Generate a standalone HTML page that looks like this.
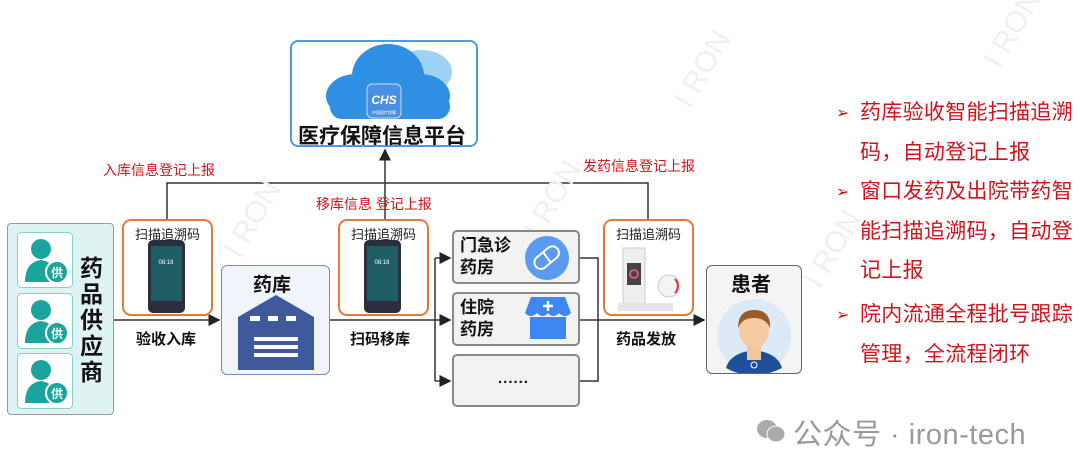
<!DOCTYPE html>
<html><head><meta charset="utf-8">
<style>
*{margin:0;padding:0;box-sizing:border-box}
body{width:1080px;height:473px;background:#fff;position:relative;overflow:hidden;font-family:"Liberation Sans","Noto Sans CJK SC",sans-serif}
.a{position:absolute}
.red{color:#d0121b;font-size:14px;white-space:nowrap}
.scan{position:absolute;border:2px solid #e07b39;border-radius:9px;background:#fff;width:91px;height:97px;top:219px}
.scan .t{font-size:13px;color:#222;text-align:center;margin-top:3px}
.bold{font-weight:bold;color:#111;white-space:nowrap}
.ph{position:absolute;border:2px solid #888;border-radius:5px;background:#f2f2f2}
.bul{position:absolute;left:860px;color:#d0121b;font-size:21px;letter-spacing:0.3px;line-height:39.5px;width:235px;white-space:nowrap}
.arr{position:absolute;left:836px;color:#d0121b;font-size:16px}
</style></head><body>

<svg class="a" style="left:0;top:0" width="1080" height="473">
<defs><marker id="m" markerWidth="8" markerHeight="8" refX="7" refY="4" orient="auto"><path d="M0,0 L8,4 L0,8z" fill="#222"/></marker></defs>
<g stroke="#333" stroke-width="1.5" fill="none">
<polyline points="167,219 167,183 648,183 648,219"/>
<line x1="385" y1="219" x2="385" y2="183"/>
<line x1="385" y1="183" x2="385" y2="150" marker-end="url(#m)"/>
<line x1="114" y1="320" x2="219" y2="320" marker-end="url(#m)"/>
<line x1="330" y1="320" x2="450" y2="320" marker-end="url(#m)"/>
<polyline points="435,258 435,381"/>
<line x1="435" y1="258" x2="450" y2="258" marker-end="url(#m)"/>
<line x1="435" y1="381" x2="450" y2="381" marker-end="url(#m)"/>
<polyline points="580,258 598,258 598,381 580,381"/>
<line x1="580" y1="320" x2="704" y2="320" marker-end="url(#m)"/>
</g>
<g fill="#f0f0f0" font-size="30" font-family="Liberation Sans">
<text x="540" y="240" transform="rotate(-60 540 240)">I RON</text>
<text x="690" y="110" transform="rotate(-60 690 110)">I RON</text>
<text x="1000" y="70" transform="rotate(-60 1000 70)">I RON</text>
<text x="820" y="290" transform="rotate(-60 820 290)">I RON</text>
<text x="240" y="260" transform="rotate(-60 240 260)">I RON</text>
</g>
</svg>

<div class="a" style="left:290px;top:40px;width:188px;height:107px;border:2px solid #4a9be8;border-radius:8px;background:#fff"></div>
<svg class="a" style="left:322px;top:44px" width="136" height="80">
<ellipse cx="100" cy="28" rx="30" ry="22" fill="#9fd3f5"/>
<ellipse cx="66" cy="32" rx="36" ry="32" fill="#2f8fe3"/>
<ellipse cx="34" cy="52" rx="30" ry="22" fill="#2f8fe3"/>
<ellipse cx="98" cy="52" rx="30" ry="22" fill="#2f8fe3"/>
<rect x="8" y="50" width="120" height="25" rx="12" fill="#2f8fe3"/>
<rect x="45" y="40" width="34" height="34" rx="5" fill="#4a8fe0" stroke="#bfe0ff"/>
<text x="62" y="60" font-size="12" font-weight="bold" font-style="italic" fill="#fff" text-anchor="middle">CHS</text>
<text x="62" y="70" font-size="4" fill="#fff" text-anchor="middle">中国医疗保障</text>
</svg>
<div class="a bold" style="left:298px;top:120px;font-size:21px">医疗保障信息平台</div>

<div class="a red" style="left:103px;top:160px">入库信息登记上报</div>
<div class="a red" style="left:316px;top:194px">移库信息 登记上报</div>
<div class="a red" style="left:583px;top:156px">发药信息登记上报</div>

<div class="a" style="left:7px;top:223px;width:107px;height:192px;background:#e0f3f3;border:1.5px solid #999;border-radius:4px"></div>
<svg class="a" style="left:17px;top:232px" width="56" height="180">
<g id="s"><rect x="0.5" y="0.5" width="55" height="55" rx="4" fill="#fff" stroke="#7fd1cc"/>
<circle cx="24" cy="17" r="10" fill="#1aa59c"/><path d="M8,50 Q8,30 24,28 Q40,30 40,50z" fill="#1aa59c"/>
<circle cx="40" cy="40" r="11" fill="#1aa59c" stroke="#fff" stroke-width="2"/><text x="40" y="45" font-size="12" fill="#fff" text-anchor="middle" font-weight="bold">供</text></g>
<use href="#s" y="61"/><use href="#s" y="121"/>
</svg>
<div class="a bold" style="left:80px;top:255px;font-size:23px;width:25px;line-height:26px;white-space:normal">药品供应商</div>

<div class="scan" style="left:122px"><div class="t">扫描追溯码</div></div>
<div class="scan" style="left:338px"><div class="t">扫描追溯码</div></div>
<div class="scan" style="left:603px"><div class="t">扫描追溯码</div></div>
<svg class="a" style="left:148px;top:240px" width="40" height="74"><rect x="0" y="0" width="37" height="73" rx="5" fill="#2a2f3e"/><rect x="3" y="6" width="31" height="55" fill="#1e5d64"/><text x="18" y="24" font-size="6" fill="#fff" text-anchor="middle">08:18</text></svg>
<svg class="a" style="left:364px;top:240px" width="40" height="74"><rect x="0" y="0" width="37" height="73" rx="5" fill="#2a2f3e"/><rect x="3" y="6" width="31" height="55" fill="#1e5d64"/><text x="18" y="24" font-size="6" fill="#fff" text-anchor="middle">08:18</text></svg>
<svg class="a" style="left:615px;top:243px" width="75" height="72"><rect x="8" y="5" width="22" height="60" fill="#eee" stroke="#ccc"/><rect x="12" y="20" width="14" height="22" fill="#444"/><circle cx="19" cy="31" r="4" fill="none" stroke="#d58" stroke-width="2"/><rect x="3" y="60" width="55" height="8" fill="#e6e6e6"/><circle cx="54" cy="43" r="11" fill="#f4f4f4" stroke="#ccc"/><path d="M60,36 A10,10 0 0 1 60,50" stroke="#c33" stroke-width="2" fill="none"/></svg>

<div class="a bold" style="left:136px;top:328px;font-size:15px">验收入库</div>
<div class="a bold" style="left:350px;top:328px;font-size:15px">扫码移库</div>
<div class="a bold" style="left:616px;top:328px;font-size:15px">药品发放</div>

<div class="a" style="left:221px;top:265px;width:109px;height:110px;background:#f1f4fb;border:1.5px solid #6e8fcb;border-radius:6px"></div>
<div class="a bold" style="left:253px;top:270px;font-size:19px">药库</div>
<svg class="a" style="left:238px;top:295px" width="76" height="75"><path d="M0,22 L38,0 L76,22 L76,75 L64,75 L64,40 L12,40 L12,75 L0,75z" fill="#3e5a9b"/><rect x="12" y="40" width="52" height="35" fill="#3e5a9b"/><g fill="#fff"><rect x="12" y="21" width="10" height="5"/><rect x="30" y="21" width="10" height="5"/><rect x="48" y="21" width="10" height="5"/><rect x="16" y="42" width="44" height="4"/><rect x="16" y="50" width="44" height="4"/><rect x="16" y="58" width="44" height="4"/></g></svg>

<div class="ph" style="left:452px;top:230px;width:128px;height:54px"></div>
<div class="a bold" style="left:460px;top:235px;font-size:17px;line-height:22px">门急诊<br>药房</div>
<svg class="a" style="left:524px;top:235px" width="46" height="46"><circle cx="23" cy="23" r="22" fill="#5b9bef"/><rect x="9" y="16" width="28" height="13" rx="6.5" transform="rotate(-40 23 23)" fill="none" stroke="#fff" stroke-width="2"/><line x1="19" y1="17" x2="27" y2="28" stroke="#fff" stroke-width="2"/></svg>
<div class="ph" style="left:452px;top:292px;width:128px;height:54px"></div>
<div class="a bold" style="left:460px;top:297px;font-size:17px;line-height:22px">住院<br>药房</div>
<svg class="a" style="left:525px;top:297px" width="46" height="44"><path d="M6,0 H40 L46,16 Q40,22 34,16 Q28,22 23,16 Q18,22 12,16 Q6,22 0,16z" fill="#3f86f0"/><rect x="5" y="20" width="36" height="22" fill="#3f86f0"/><path d="M23,4 v10 M18,9 h10" stroke="#fff" stroke-width="2.5"/></svg>
<div class="ph" style="left:452px;top:354px;width:128px;height:53px"></div>
<div class="a bold" style="left:498px;top:370px;font-size:15px;letter-spacing:1px">......</div>

<div class="a" style="left:706px;top:265px;width:96px;height:109px;border:1.5px solid #666;border-radius:6px;background:#f4f4f4"></div>
<div class="a bold" style="left:731px;top:268px;font-size:20px">患者</div>
<svg class="a" style="left:716px;top:298px" width="76" height="75"><circle cx="38" cy="38" r="37" fill="#dce9f6"/><path d="M10,70 Q14,55 38,52 Q62,55 66,70 Q50,78 38,76 Q24,78 10,70z" fill="#1f4f9a"/><rect x="31" y="42" width="14" height="20" fill="#f2c59a"/><ellipse cx="38" cy="32" rx="15" ry="18" fill="#f5caa0"/><path d="M22,30 Q22,12 38,12 Q55,12 54,30 Q50,20 38,20 Q26,20 22,30z" fill="#9a5a2a"/><circle cx="38" cy="67" r="3" fill="#1f4f9a" stroke="#fff"/></svg>

<div class="arr" style="top:103px">➢</div>
<div class="bul" style="top:93px">药库验收智能扫描追溯<br>码，自动登记上报</div>
<div class="arr" style="top:182px">➢</div>
<div class="bul" style="top:172px">窗口发药及出院带药智<br>能扫描追溯码，自动登<br>记上报</div>
<div class="arr" style="top:305px">➢</div>
<div class="bul" style="top:295px">院内流通全程批号跟踪<br>管理，全流程闭环</div>

<svg class="a" style="left:756px;top:418px" width="30" height="26"><ellipse cx="11" cy="11" rx="10" ry="9" fill="#aaa"/><ellipse cx="20" cy="16" rx="9" ry="8" fill="#aaa" stroke="#fff"/></svg>
<div class="a" style="left:793px;top:411px;font-size:29px;color:#999;white-space:nowrap;letter-spacing:0.5px">公众号 · iron-tech</div>
</body></html>
